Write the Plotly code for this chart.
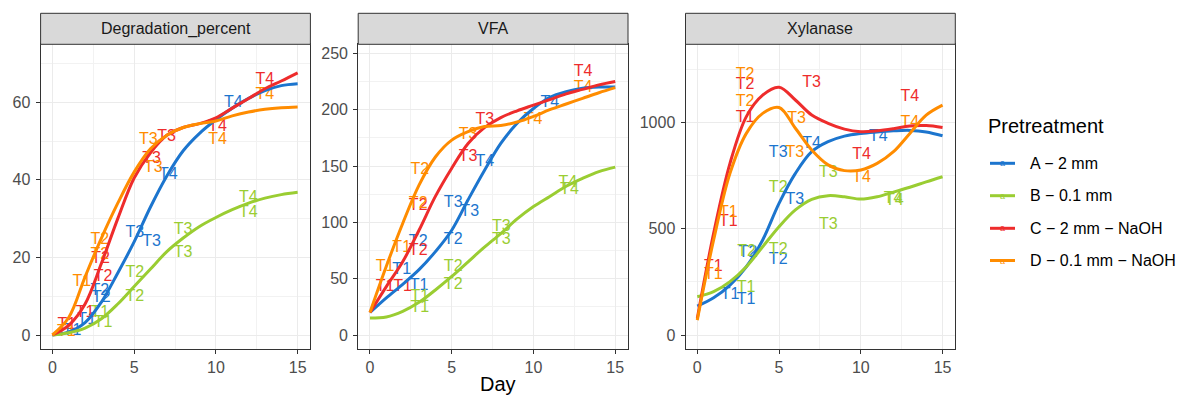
import plotly.graph_objects as go

# ---------------- data ----------------
days = list(range(16))
groups = ["A \u2212 2 mm", "B \u2212 0.1 mm", "C \u2212 2 mm \u2212 NaOH", "D \u2212 0.1 mm \u2212 NaOH"]
colors = ["#1C75CE", "#9ACD32", "#EE2C2C", "#FF8C00"]
panels = ["Degradation_percent", "VFA", "Xylanase"]

# smoothed curves read at each day
deg_A = [0, 0.8, 3.2, 8.5, 16, 24, 33, 41, 47.5, 52, 55.5, 58.5, 61, 63, 64.3, 64.8]
deg_B = [0, 0.6, 1.8, 4.2, 8, 12.5, 17, 21.5, 25, 28, 30.3, 32.3, 34, 35.3, 36.2, 36.8]
deg_C = [0, 2.5, 8, 18.5, 30, 40.5, 47, 51.5, 53.5, 54.5, 56, 58.5, 61, 63.5, 65.5, 67.6]
deg_D = [0, 4.5, 15, 25, 34, 42, 48, 51.5, 53.5, 54.5, 55.2, 56.5, 57.5, 58.2, 58.6, 58.8]

vfa_A = [20, 33, 45, 58, 74, 93, 120, 146, 170, 188, 201, 211, 216, 219, 220, 220]
vfa_B = [15, 16, 21, 29, 40, 52, 65, 78, 90, 103, 114, 123, 132, 139, 145, 149]
vfa_C = [20, 43, 65, 93, 123, 148, 170, 184, 193, 199, 204, 209, 214, 218, 222, 225]
vfa_D = [20, 61, 99, 133, 158, 173, 180.5, 185, 186, 189, 194, 200, 205, 210, 215, 219.5]

xyl_A = [136, 175, 235, 321, 447, 619, 760, 862, 909, 935, 948, 955, 960, 962, 955, 937]
xyl_B = [180, 204, 251, 321, 415, 509, 588, 638, 655, 650, 639, 650, 672, 695, 720, 744]
xyl_C = [78, 478, 807, 1027, 1128, 1165, 1105, 1034, 995, 968, 956, 960, 970, 983, 985, 976]
xyl_D = [70, 447, 760, 948, 1042, 1070, 972, 870, 800, 773, 776, 807, 862, 948, 1034, 1081]

# text labels (jittered sample points)
deg_A_lx = [1.2, 2.1, 2.9, 3.0, 5.05, 6.07, 7.09, 11.06]
deg_A_ly = [1.0, 3.9, 11.3, 9.5, 26.3, 24.0, 41.2, 59.7]
deg_A_lt = ["T1", "T1", "T2", "T2", "T3", "T3", "T4", "T4"]
deg_B_lx = [2.9, 3.1, 5.05, 5.05, 8.0, 8.0, 11.98, 11.98]
deg_B_ly = [5.6, 3.1, 16.0, 9.9, 27.1, 21.1, 35.2, 31.4]
deg_B_lt = ["T1", "T1", "T2", "T2", "T3", "T3", "T4", "T4"]
deg_C_lx = [0.88, 2.0, 3.1, 2.95, 6.07, 6.99, 10.1, 13.0]
deg_C_ly = [2.6, 5.6, 15.0, 19.5, 45.5, 51.0, 53.7, 65.7]
deg_C_lt = ["T1", "T1", "T2", "T2", "T3", "T3", "T4", "T4"]
deg_D_lx = [0.85, 1.8, 2.9, 2.9, 5.87, 6.17, 10.1, 13.0]
deg_D_ly = [0.8, 13.6, 24.5, 20.5, 50.3, 43.0, 50.3, 61.9]
deg_D_lt = ["T1", "T1", "T2", "T2", "T3", "T3", "T4", "T4"]

vfa_A_lx = [1.94, 3.0, 2.95, 5.09, 5.09, 6.1, 7.02, 11.0]
vfa_A_ly = [57.7, 43.5, 82.8, 84.3, 116.9, 109.5, 153.8, 205.6]
vfa_A_lt = ["T1", "T1", "T2", "T2", "T3", "T3", "T4", "T4"]
vfa_B_lx = [3.05, 3.05, 5.09, 5.09, 8.04, 8.04, 12.1, 12.2]
vfa_B_ly = [34.0, 24.0, 60.6, 44.4, 96.0, 84.3, 134.6, 129.0]
vfa_B_lt = ["T1", "T1", "T2", "T2", "T3", "T3", "T4", "T4"]
vfa_C_lx = [0.92, 2.0, 2.95, 2.95, 6.0, 7.02, 13.03]
vfa_C_ly = [42.9, 43.0, 114.5, 74.8, 158.0, 190.8, 233.7]
vfa_C_lt = ["T1", "T1", "T2", "T2", "T3", "T3", "T4"]
vfa_D_lx = [0.92, 1.94, 3.05, 2.95, 6.0, 9.97, 13.03]
vfa_D_ly = [60.0, 77.0, 146.4, 116.0, 177.5, 190.8, 219.0]
vfa_D_lt = ["T1", "T1", "T2", "T2", "T3", "T4", "T4"]

xyl_A_lx = [2.0, 2.98, 3.1, 4.95, 4.95, 5.97, 6.99, 11.07]
xyl_A_ly = [188, 165, 384, 353, 855, 635, 900, 932]
xyl_A_lt = ["T1", "T1", "T2", "T2", "T3", "T3", "T4", "T4"]
xyl_B_lx = [2.98, 3.02, 4.95, 4.95, 8.01, 8.01, 11.98, 12.05]
xyl_B_ly = [219, 392, 400, 690, 760, 517, 640, 630]
xyl_B_lt = ["T1", "T2", "T2", "T2", "T3", "T3", "T4", "T4"]
xyl_C_lx = [0.98, 1.9, 2.92, 2.92, 6.99, 10.05, 13.0]
xyl_C_ly = [321, 533, 1175, 1022, 1183, 846, 1121]
xyl_C_lt = ["T1", "T1", "T2", "T1", "T3", "T4", "T4"]
xyl_D_lx = [0.98, 1.9, 2.92, 2.92, 5.97, 6.08, 10.05, 13.0]
xyl_D_ly = [282, 572, 1222, 1097, 855, 1014, 737, 995]
xyl_D_lt = ["T1", "T1", "T2", "T2", "T3", "T3", "T4", "T4"]

y_ranges = [[-3.61, 74.96], [-12.4, 258.0], [-65.8, 1366.9]]
y_major = [20, 50, 500]
x_range = [-0.72, 15.78]

curves = [[deg_A, deg_B, deg_C, deg_D], [vfa_A, vfa_B, vfa_C, vfa_D], [xyl_A, xyl_B, xyl_C, xyl_D]]
labels = [
    [(deg_A_lx, deg_A_ly, deg_A_lt), (deg_B_lx, deg_B_ly, deg_B_lt), (deg_C_lx, deg_C_ly, deg_C_lt), (deg_D_lx, deg_D_ly, deg_D_lt)],
    [(vfa_A_lx, vfa_A_ly, vfa_A_lt), (vfa_B_lx, vfa_B_ly, vfa_B_lt), (vfa_C_lx, vfa_C_ly, vfa_C_lt), (vfa_D_lx, vfa_D_ly, vfa_D_lt)],
    [(xyl_A_lx, xyl_A_ly, xyl_A_lt), (xyl_B_lx, xyl_B_ly, xyl_B_lt), (xyl_C_lx, xyl_C_ly, xyl_C_lt), (xyl_D_lx, xyl_D_ly, xyl_D_lt)],
]

# ---------------- layout geometry (reference-window pixels) ----------------
OFF = 8  # page body margin
W, H = 1184 - OFF, 396 - OFF
FONT = "Liberation Sans, Arial, sans-serif"
panel_left = [40.6, 358.2, 685.5]
panel_w = 269.8
panel_top, panel_bot = 44.3, 349.0
strip_top = 13.3


def px(x):
    return (x - OFF) / W


def py(y):
    return 1 - (y - OFF) / H


fig = go.Figure()

# text first, lines on top
for p in range(3):
    suffix = "" if p == 0 else str(p + 1)
    for g in range(4):
        lx, ly, lt = labels[p][g]
        fig.add_trace(go.Scatter(
            x=lx, y=ly, text=lt, mode="text",
            textfont=dict(family=FONT, size=16, color=colors[g]),
            xaxis="x" + suffix, yaxis="y" + suffix, showlegend=False, hoverinfo="skip"))
for p in range(3):
    suffix = "" if p == 0 else str(p + 1)
    for g in range(4):
        fig.add_trace(go.Scatter(
            x=days, y=curves[p][g], mode="lines",
            line=dict(color=colors[g], width=3, shape="spline", smoothing=1.0),
            xaxis="x" + suffix, yaxis="y" + suffix, name=groups[g], showlegend=False))

layout = dict(
    width=W, height=H, margin=dict(l=0, r=0, t=0, b=0),
    paper_bgcolor="white", plot_bgcolor="white", showlegend=False,
    font=dict(family=FONT, color="#4D4D4D"),
)
shapes = []
annotations = []
for p in range(3):
    suffix = "" if p == 0 else str(p + 1)
    x0 = panel_left[p]
    x1 = x0 + panel_w
    axis_common = dict(
        showline=True, linecolor="#333333", linewidth=1, mirror=True,
        ticks="outside", ticklen=4, tickcolor="#333333", tickwidth=1,
        showgrid=True, gridcolor="#EBEBEB", gridwidth=1.1,
        zeroline=False, tickfont=dict(family=FONT, size=16, color="#4D4D4D"),
    )
    layout["xaxis" + suffix] = dict(
        axis_common, domain=[px(x0), px(x1)], range=x_range, anchor="y" + suffix,
        tickmode="linear", tick0=0, dtick=5,
        minor=dict(dtick=2.5, tick0=0, showgrid=True, gridcolor="#F2F2F2", gridwidth=0.6, ticks=""),
    )
    layout["yaxis" + suffix] = dict(
        axis_common, domain=[py(panel_bot), py(panel_top)], range=y_ranges[p], anchor="x" + suffix,
        tickmode="linear", tick0=0, dtick=y_major[p], ticklabelstandoff=2,
        minor=dict(dtick=y_major[p] / 2, tick0=0, showgrid=True, gridcolor="#F2F2F2", gridwidth=0.6, ticks=""),
    )
    # strip
    shapes.append(dict(type="rect", xref="paper", yref="paper",
                       x0=px(x0), x1=px(x1), y0=py(panel_top), y1=py(strip_top),
                       fillcolor="#D9D9D9", line=dict(color="#333333", width=1), layer="above"))
    annotations.append(dict(text=panels[p], xref="paper", yref="paper",
                            x=px((x0 + x1) / 2), y=py((strip_top + panel_top) / 2),
                            xanchor="center", yanchor="middle", showarrow=False,
                            font=dict(family=FONT, size=16, color="#1A1A1A")))

# x axis title
annotations.append(dict(text="Day", xref="paper", yref="paper", x=px(498), y=0,
                        xanchor="center", yanchor="bottom", showarrow=False, borderpad=0,
                        font=dict(family=FONT, size=20, color="black")))

# legend (manual, ggplot style)
annotations.append(dict(text="Pretreatment", xref="paper", yref="paper", x=px(986), y=py(126),
                        xanchor="left", yanchor="middle", showarrow=False,
                        font=dict(family=FONT, size=20, color="black")))
legend_y = [163.3, 195.7, 228.3, 260.5]
for g in range(4):
    yy = legend_y[g]
    shapes.append(dict(type="line", xref="paper", yref="paper",
                       x0=px(990), x1=px(1015), y0=py(yy), y1=py(yy),
                       line=dict(color=colors[g], width=3)))
    annotations.append(dict(text="a", xref="paper", yref="paper", x=px(1002.5), y=py(yy),
                            xanchor="center", yanchor="middle", showarrow=False,
                            font=dict(family=FONT, size=9, color=colors[g])))
    annotations.append(dict(text=groups[g], xref="paper", yref="paper", x=px(1028), y=py(yy),
                            xanchor="left", yanchor="middle", showarrow=False,
                            font=dict(family=FONT, size=16, color="black")))

layout["shapes"] = shapes
layout["annotations"] = annotations
fig.update_layout(**layout)
fig.write_html("out.html")
